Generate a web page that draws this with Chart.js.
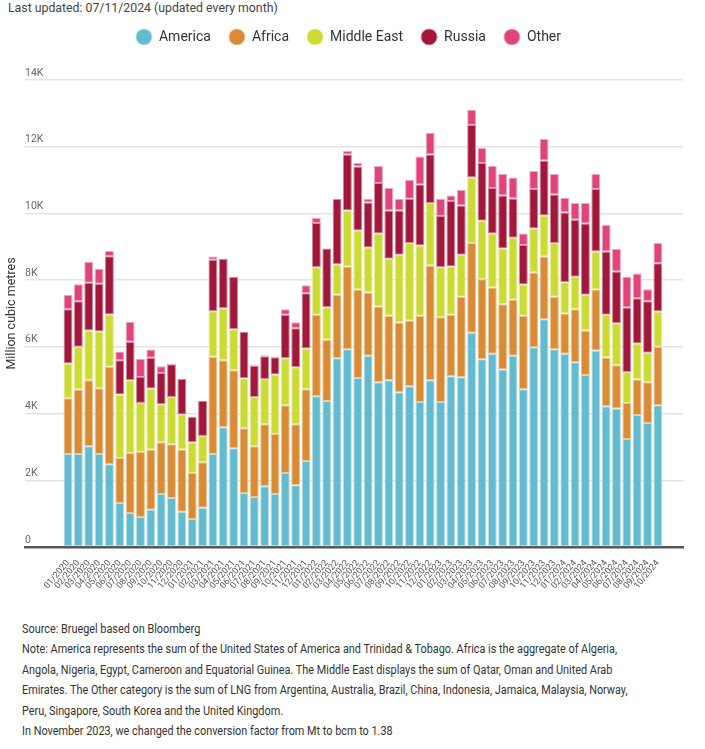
<!DOCTYPE html>
<html>
<head>
<meta charset="utf-8">
<script src="https://cdn.jsdelivr.net/npm/chart.js@4/dist/chart.umd.min.js"></script>
<style>
  html, body { margin: 0; padding: 0; background: #fff; }
  body { width: 705px; height: 749px; position: relative; overflow: hidden;
         font-family: Roboto, sans-serif; color: #444; }
  #updated { position: absolute; left: 8px; top: 0; font-size: 12.3px; line-height: 16px; }
  #wrap { position: absolute; left: 0; top: 12px; width: 705px; height: 580px; }
  #notes { position: absolute; left: 22px; top: 619px; font-size: 12px; line-height: 20.4px; color: #333;
           white-space: nowrap; transform: scaleX(0.905); transform-origin: left top; }
</style>
</head>
<body>
<div id="updated">Last updated: 07/11/2024 (updated every month)</div>
<div id="wrap"><canvas id="chart"></canvas></div>
<div id="notes">
Source: Bruegel based on Bloomberg<br>
Note: America represents the sum of the United States of America and Trinidad &amp; Tobago. Africa is the aggregate of Algeria,<br>
Angola, Nigeria, Egypt, Cameroon and Equatorial Guinea. The Middle East displays the sum of Qatar, Oman and United Arab<br>
Emirates. The Other category is the sum of LNG from Argentina, Australia, Brazil, China, Indonesia, Jamaica, Malaysia, Norway,<br>
Peru, Singapore, South Korea and the United Kingdom.<br>
In November 2023, we changed the conversion factor from Mt to bcm to 1.38
</div>
<script>
// monthly labels 01/2020 .. 10/2024
const months = [
  '01/2020','02/2020','03/2020','04/2020','05/2020','06/2020','07/2020','08/2020','09/2020','10/2020','11/2020','12/2020',
  '01/2021','02/2021','03/2021','04/2021','05/2021','06/2021','07/2021','08/2021','09/2021','10/2021','11/2021','12/2021',
  '01/2022','02/2022','03/2022','04/2022','05/2022','06/2022','07/2022','08/2022','09/2022','10/2022','11/2022','12/2022',
  '01/2023','02/2023','03/2023','04/2023','05/2023','06/2023','07/2023','08/2023','09/2023','10/2023','11/2023','12/2023',
  '01/2024','02/2024','03/2024','04/2024','05/2024','06/2024','07/2024','08/2024','09/2024','10/2024'
];

// million cubic metres
const america = [
  2790,2790,3020,2790,2480,1320,1020,900,1120,1590,1470,1060,
  840,1180,2790,3590,2960,1620,1500,1820,1590,2220,1850,2580,
  4520,4380,5660,5930,5070,5730,4940,5000,4640,4820,4350,5000,
  4350,5120,5090,6420,5630,5790,5320,5730,4730,5990,6830,5930,
  5790,5540,5160,5890,4220,4150,3240,3960,3720,4250
];
const africa = [
  1670,1930,1980,1970,2920,1350,1800,1950,1800,1550,1610,1860,
  1380,1360,2910,2010,2340,1940,1520,1860,1800,2030,1830,2150,
  2440,1830,1900,2480,2650,1900,2270,1930,2090,1970,2580,3440,
  2540,1840,2410,2690,2400,1990,1960,1680,2200,2240,1880,1570,
  1210,1590,1330,1830,1460,1300,1080,1060,1220,1750
];
const middleEast = [
  1040,1280,1490,1700,1570,1900,2180,1470,1830,1140,1420,1050,
  920,790,1370,1560,1230,1500,1480,1360,1780,1410,1710,1220,
  1430,980,920,1680,1770,1350,2190,1710,2030,2320,2110,1870,
  1500,1450,1260,1970,1750,1620,1670,1860,940,1320,1230,1610,
  940,970,1070,1140,1280,1260,930,1080,880,1060
];
const russia = [
  1630,1370,1430,1430,1750,1030,1150,780,920,940,980,1070,
  760,1050,1540,1480,1570,1390,930,680,520,1300,1170,1660,
  1320,1760,1950,1680,1920,1350,1510,1450,1330,1330,1830,1460,
  1530,1960,1480,1570,1730,1360,1590,1180,1180,1180,1650,1460,
  2090,1710,2140,1870,1900,1550,1930,1360,1550,1450
];
const other = [
  430,510,630,450,150,260,600,540,250,200,20,0,
  0,0,100,0,0,0,40,30,20,170,180,240,
  160,0,0,100,110,110,510,680,350,570,840,640,
  520,170,460,460,450,660,640,630,350,540,640,610,
  440,500,610,450,790,670,920,740,360,600
];

const series = [
  { label: 'America', data: america, color: '#62bbcf', edge: '#b7e0e9' },
  { label: 'Africa', data: africa, color: '#d98c35', edge: '#eec491' },
  { label: 'Middle East', data: middleEast, color: '#ccdb33', edge: '#e6ee99' },
  { label: 'Russia', data: russia, color: '#a2183a', edge: '#d08a9b' },
  { label: 'Other', data: other, color: '#e0447b', edge: '#f2a8c2' }
];

const font = 'Roboto, sans-serif';

// push the plot down below the legend, nudge legend to the right a bit
const legendGap = {
  id: 'legendGap',
  beforeInit(chart) {
    const fit = chart.legend.fit;
    chart.legend.fit = function () { fit.bind(chart.legend)(); this.height += 26; };
  },
  afterLayout(chart) {
    chart.legend.left += 7;
    chart.legend.right += 7;
  }
};

new Chart(document.getElementById('chart'), {
  type: 'bar',
  data: {
    datasets: series.map(s => ({
      label: s.label,
      data: s.data.map((v, i) => ({ x: i, y: v })),
      backgroundColor: s.color, borderColor: s.edge,
      borderWidth: 1, borderSkipped: false,
      barPercentage: 0.86, categoryPercentage: 1
    }))
  },
  plugins: [legendGap],
  options: {
    responsive: true, maintainAspectRatio: false, animation: false,
    layout: { padding: { top: 0, right: 22, left: 0, bottom: 0 } },
    plugins: {
      tooltip: { enabled: false },
      legend: {
        position: 'top',
        labels: {
          usePointStyle: true, pointStyle: 'circle', pointStyleWidth: 16, boxHeight: 11.3,
          padding: 18, color: '#333', font: { size: 14, family: font }
        }
      }
    },
    scales: {
      x: {
        type: 'linear', stacked: true, min: -3.61, max: 58.88,
        afterBuildTicks: axis => { axis.ticks = months.map((m, i) => ({ value: i })); },
        afterFit: axis => { axis.height = 45; },
        grid: { display: false },
        border: { color: '#555', width: 2.5 },
        ticks: {
          autoSkip: false, minRotation: 50, maxRotation: 50, padding: 3,
          color: '#555', font: { size: 9, family: font },
          callback: v => months[v]
        }
      },
      y: {
        stacked: true, min: 0, max: 14000,
        afterFit: axis => { axis.width = 25; },
        grid: { color: '#e4e4e4', lineWidth: 1.5, drawTicks: false },
        border: { display: false },
        title: {
          display: true, text: 'Million cubic metres', color: '#333',
          font: { size: 12.5, family: font }
        },
        ticks: {
          stepSize: 2000, mirror: true, padding: 0, labelOffset: -7,
          color: '#666', font: { size: 10.5, family: font },
          callback: v => v === 0 ? '0' : (v / 1000) + 'K'
        }
      }
    }
  }
});
</script>
</body>
</html>
